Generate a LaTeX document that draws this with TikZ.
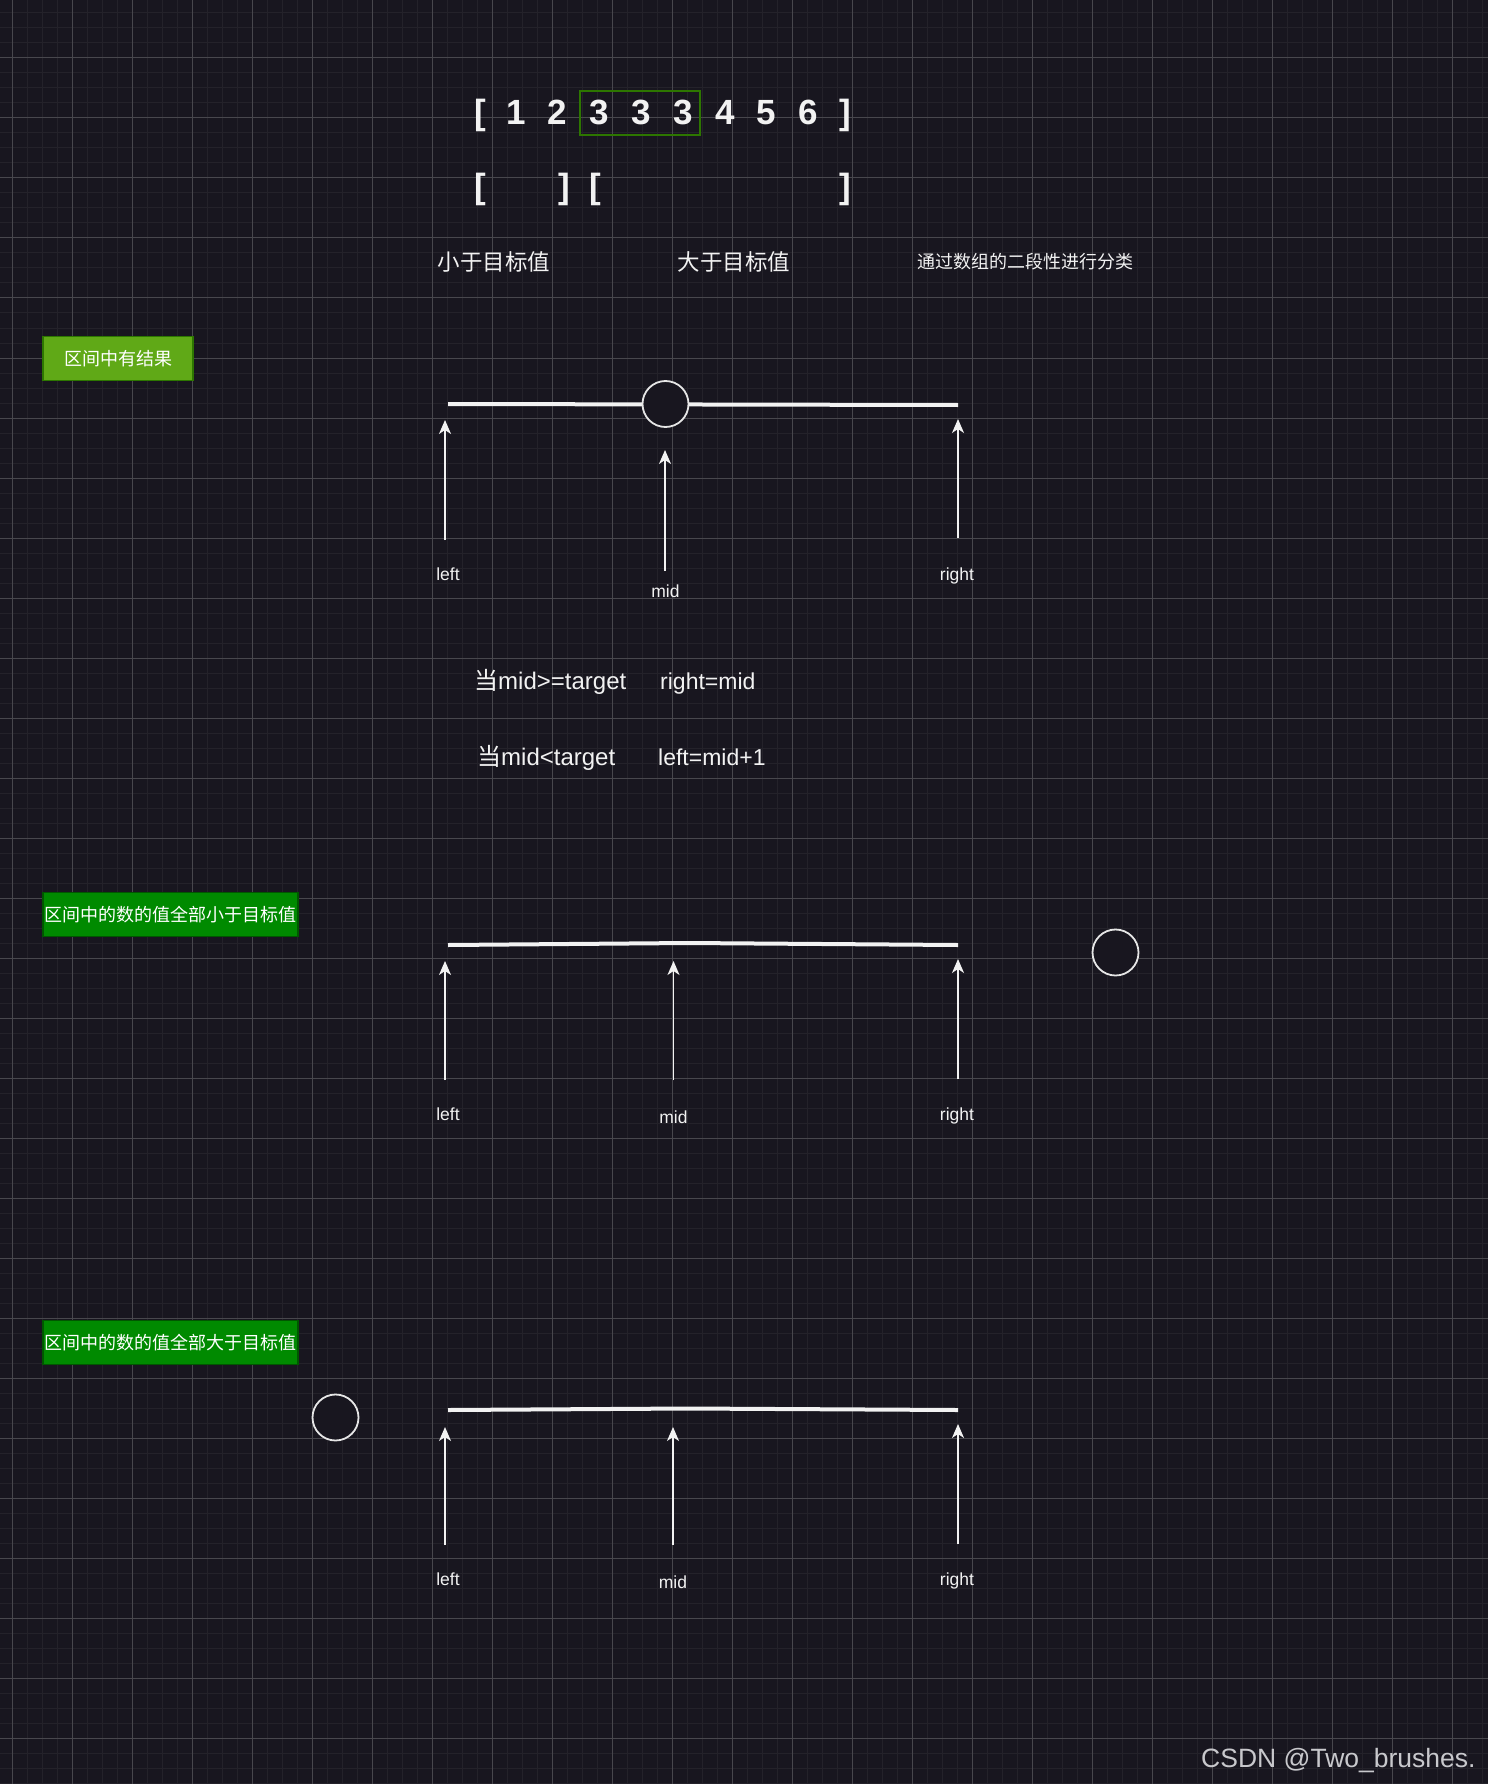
\documentclass[tikz,border=0pt]{standalone}
\usepackage{fontspec}
\setmainfont{Liberation Sans}
\newfontfamily\cjk{Noto Sans CJK SC}
\usetikzlibrary{arrows.meta}
\definecolor{bgc}{RGB}{24,22,31}
\definecolor{gridminor}{RGB}{36,34,42}
\definecolor{gridmajor}{RGB}{72,71,77}
\definecolor{fg}{RGB}{242,242,242}
\definecolor{ringc}{RGB}{230,230,230}
\definecolor{lightgreen}{RGB}{96,169,23}
\definecolor{lightgreenb}{RGB}{45,118,0}
\definecolor{darkgreen}{RGB}{0,138,0}
\definecolor{darkgreenb}{RGB}{0,87,0}
\definecolor{boxgreen}{RGB}{45,118,0}
\definecolor{wm}{RGB}{200,200,204}
\begin{document}
\begin{tikzpicture}[x=1pt,y=-1pt,
  minorline/.style={draw=gridminor,line width=1pt},
  majorline/.style={draw=gridmajor,line width=1pt},
  txt/.style={text=fg,inner sep=0pt},
  bigch/.style={txt,anchor=base,font=\bfseries\fontsize{35}{40}\selectfont},
  cjkhead/.style={txt,font=\cjk\fontsize{22.5}{26}\selectfont},
  cjksmall/.style={txt,font=\cjk\fontsize{18}{22}\selectfont},
  rule/.style={txt,anchor=base west,font=\fontsize{23}{27}\selectfont},
  rulecn/.style={txt,anchor=base west,font=\fontsize{24}{28}\selectfont},
  lbl/.style={txt,anchor=base,font=\fontsize{17.5}{20}\selectfont},
  tag/.style={txt,text=white,draw,line width=1.5pt,minimum height=44pt,font=\cjk\fontsize{18}{20}\selectfont},
  ptr/.style={draw=fg,line width=1.5pt,-{Stealth[length=14pt,width=12pt,inset=4pt]}},
  bar/.style={draw=fg,line width=4pt},
  ring/.style={circle,draw=ringc,line width=1.8pt,fill=bgc,minimum size=46pt,inner sep=0pt}]
% background and grid
\useasboundingbox (0,0) rectangle (1488,1784);
\fill[bgc] (0,0) rectangle (1488,1784);
\begin{scope}
\clip (0,0) rectangle (1488,1784);
\foreach \gx in {-3,12,...,1500} \draw[minorline] (\gx,0) -- (\gx,1784);
\foreach \gy in {-2,13,...,1790} \draw[minorline] (0,\gy) -- (1488,\gy);
\foreach \gx in {12,72,...,1500} \draw[majorline] (\gx,0) -- (\gx,1784);
\foreach \gy in {-2,58,...,1790} \draw[majorline] (0,\gy) -- (1488,\gy);
\end{scope}

% top array
\node[bigch] (b0) at (480,124.5) {[};
\node[bigch] (d1) at (516,124.5) {1};
\node[bigch] (d2) at (557,124.5) {2};
\node[bigch] (d3) at (599,124.5) {3};
\node[bigch] (d4) at (641,124.5) {3};
\node[bigch] (d5) at (683,124.5) {3};
\node[bigch] (d6) at (725,124.5) {4};
\node[bigch] (d7) at (766,124.5) {5};
\node[bigch] (d8) at (808,124.5) {6};
\node[bigch] (b1) at (845,124.5) {]};
\node[draw=boxgreen,line width=1.5pt,minimum width=120pt,minimum height=44pt,inner sep=0pt] (sel) at (640,113) {};

% second row brackets
\node[bigch] (p0) at (480,199) {[};
\node[bigch] (p1) at (564,199) {]};
\node[bigch] (p2) at (595,199) {[};
\node[bigch] (p3) at (845,199) {]};

% category labels
\node[cjkhead] (less) at (494,262) {小于目标值};
\node[cjkhead] (more) at (734,262) {大于目标值};
\node[cjksmall] (note) at (1025.5,262) {通过数组的二段性进行分类};

% ---------- section 1 ----------
\node[tag,fill=lightgreen,draw=lightgreenb,minimum width=150pt] (t1) at (118,358.5) {区间中有结果};
\coordinate (l1a) at (448,404);
\coordinate (l1b) at (958,405);
\draw[bar] (l1a) -- (l1b);
\node[ring] (c1) at (665.5,404) {};
\coordinate (s1l) at (445,540);  \coordinate (e1l) at (445,420);
\coordinate (s1m) at (665,571);  \coordinate (e1m) at (665,450);
\coordinate (s1r) at (958,538);  \coordinate (e1r) at (958,419);
\draw[ptr] (s1l) -- (e1l);
\draw[ptr] (s1m) -- (e1m);
\draw[ptr] (s1r) -- (e1r);
\node[lbl] (left1) at (448,580) {left};
\node[lbl] (mid1) at (665.5,597) {mid};
\node[lbl] (right1) at (957,580) {right};

% rules
\node[rulecn] (r1a) at (474,689) {{\cjk 当}mid>=target};
\node[rule] (r1b) at (660,689) {right=mid};
\node[rulecn] (r2a) at (477,765) {{\cjk 当}mid<target};
\node[rule] (r2b) at (658,765) {left=mid+1};

% ---------- section 2 ----------
\node[tag,fill=darkgreen,draw=darkgreenb,minimum width=255pt] (t2) at (170.5,914.5) {区间中的数的值全部小于目标值};
\coordinate (l2a) at (448,945);
\coordinate (l2m) at (688,943);
\coordinate (l2b) at (958,945);
\draw[bar] (l2a) -- (l2m) -- (l2b);
\node[ring] (c2) at (1115.5,952.5) {};
\coordinate (s2l) at (445,1080);   \coordinate (e2l) at (445,961);
\coordinate (s2m) at (673.5,1080); \coordinate (e2m) at (673.5,961);
\coordinate (s2r) at (958,1079);   \coordinate (e2r) at (958,959);
\draw[ptr] (s2l) -- (e2l);
\draw[ptr] (s2m) -- (e2m);
\draw[ptr] (s2r) -- (e2r);
\node[lbl] (left2) at (448,1120) {left};
\node[lbl] (mid2) at (673.5,1123) {mid};
\node[lbl] (right2) at (957,1120) {right};

% ---------- section 3 ----------
\node[tag,fill=darkgreen,draw=darkgreenb,minimum width=255pt] (t3) at (170.5,1342.5) {区间中的数的值全部大于目标值};
\coordinate (l3a) at (448,1410);
\coordinate (l3m) at (688,1408.5);
\coordinate (l3b) at (958,1410);
\draw[bar] (l3a) -- (l3m) -- (l3b);
\node[ring] (c3) at (335.5,1417.5) {};
\coordinate (s3l) at (445,1545);  \coordinate (e3l) at (445,1427);
\coordinate (s3m) at (673,1545);  \coordinate (e3m) at (673,1427);
\coordinate (s3r) at (958,1544);  \coordinate (e3r) at (958,1424);
\draw[ptr] (s3l) -- (e3l);
\draw[ptr] (s3m) -- (e3m);
\draw[ptr] (s3r) -- (e3r);
\node[lbl] (left3) at (448,1585) {left};
\node[lbl] (mid3) at (673,1588) {mid};
\node[lbl] (right3) at (957,1585) {right};

% watermark
\node[inner sep=0pt,anchor=base west,text=wm,font=\fontsize{26.5}{30}\selectfont] (mark) at (1201,1767) {CSDN @Two\_brushes.};
\end{tikzpicture}
\end{document}
